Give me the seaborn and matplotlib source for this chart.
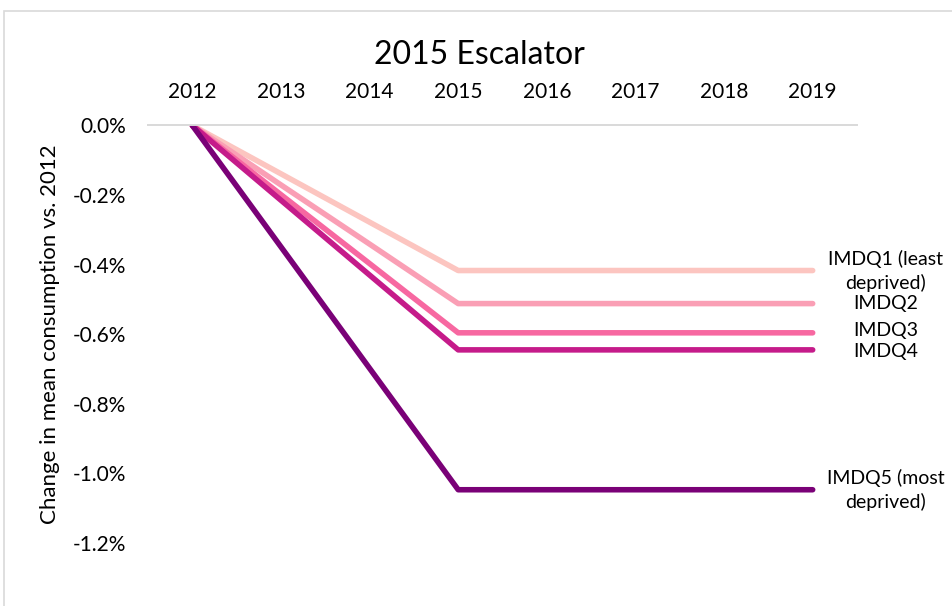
import matplotlib
matplotlib.use("Agg")
import matplotlib.pyplot as plt
import matplotlib.patches as mpatches
from matplotlib.ticker import FuncFormatter
import pandas as pd
import seaborn as sns

# Data (percent change in mean consumption vs. 2012)
years = [2012, 2013, 2014, 2015, 2016, 2017, 2018, 2019]
imdq1 = [0.0, -0.139, -0.278, -0.417, -0.417, -0.417, -0.417, -0.417]
imdq2 = [0.0, -0.171, -0.341, -0.512, -0.512, -0.512, -0.512, -0.512]
imdq3 = [0.0, -0.199, -0.397, -0.596, -0.596, -0.596, -0.596, -0.596]
imdq4 = [0.0, -0.215, -0.430, -0.645, -0.645, -0.645, -0.645, -0.645]
imdq5 = [0.0, -0.349, -0.698, -1.047, -1.047, -1.047, -1.047, -1.047]
series_names = ["IMDQ1 (least\ndeprived)", "IMDQ2", "IMDQ3", "IMDQ4", "IMDQ5 (most\ndeprived)"]
colors = ["#FCC5C0", "#FA9FB5", "#F768A1", "#C51B8A", "#7A0177"]

sns.set_theme(style="white")
plt.rcParams["font.family"] = ["Lato", "DejaVu Sans"]

# Build long-form table for seaborn
rows = []
for name, vals in zip(series_names, [imdq1, imdq2, imdq3, imdq4, imdq5]):
    for i, (yr, v) in enumerate(zip(years, vals)):
        rows.append({"pos": i, "year": yr, "value": v, "series": name})
df = pd.DataFrame(rows)

fig = plt.figure(figsize=(9.52, 6.06), dpi=100)
ax = fig.add_axes([0.1555, 0.104, 0.7447, 0.689])

sns.lineplot(
    data=df, x="pos", y="value", hue="series", palette=colors,
    linewidth=4.0, sort=False, legend=False, ax=ax,
)
for line in ax.get_lines():
    line.set_solid_capstyle("round")
    line.set_solid_joinstyle("round")

ax.set_xlim(-0.5, len(years) - 0.5)
ax.set_ylim(-1.2, 0.0)
ax.set_xticks(range(len(years)))
ax.set_xticklabels([str(y) for y in years])
ax.set_yticks([0.0, -0.2, -0.4, -0.6, -0.8, -1.0, -1.2])
ax.yaxis.set_major_formatter(FuncFormatter(lambda v, p: f"{v:.1f}%"))
ax.xaxis.tick_top()
ax.tick_params(axis="x", length=0, pad=17, labelsize=15, colors="#000000")
ax.tick_params(axis="y", length=0, pad=16, labelsize=15, colors="#000000")
ax.set_xlabel("")
ax.set_ylabel("")

for side in ["bottom", "left", "right"]:
    ax.spines[side].set_visible(False)
ax.spines["top"].set_color("#D9D9D9")
ax.spines["top"].set_linewidth(1.4)
ax.grid(False)

# End-of-line labels (IMDQ3/IMDQ4 nudged apart a touch, they sit very close)
nudges = [0, 0, 1.5, -1.5, 0]
for name, vals, dy in zip(series_names, [imdq1, imdq2, imdq3, imdq4, imdq5], nudges):
    ax.annotate(name, xy=(len(years) - 1 + 0.82, vals[-1]), xytext=(0, dy),
                textcoords="offset points", ha="center", va="center",
                multialignment="center", fontsize=14, linespacing=1.4,
                color="#000000", annotation_clip=False)

fig.text(0.504, 1 - 55 / 606, "2015 Escalator", ha="center", va="center",
         fontsize=23, color="#000000")
fig.text(50 / 952, 1 - 334 / 606, "Change in mean consumption vs. 2012",
         rotation=90, ha="center", va="center", fontsize=16, color="#000000")

# Chart area border
fig.patches.append(mpatches.Rectangle(
    (4 / 952, -0.05), 1.2, 1.05 - 11 / 606, transform=fig.transFigure,
    fill=False, edgecolor="#D9D9D9", linewidth=1.2, clip_on=False))

fig.savefig("out.png", dpi=100, facecolor="white")
